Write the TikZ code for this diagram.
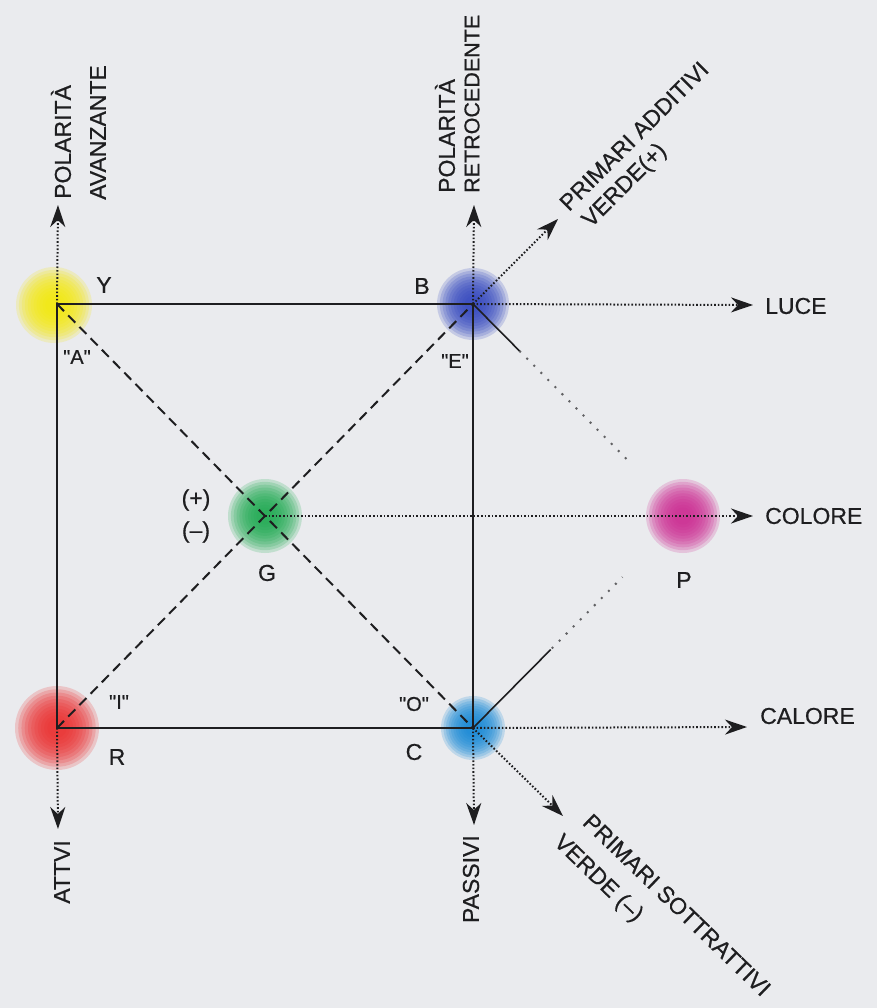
\documentclass[tikz,border=0pt]{standalone}
\usepackage{fontspec}
\setmainfont{Liberation Sans}
\newfontfamily\labfont{Liberation Sans}[FakeBold=0.6,Ligatures=TeX]
\usetikzlibrary{arrows.meta,calc}
\definecolor{paper}{RGB}{234,235,238}
\definecolor{ink}{RGB}{30,30,32}
\definecolor{yelC}{RGB}{245,232,10}
\definecolor{bluC}{RGB}{50,70,190}
\definecolor{grnC}{RGB}{30,170,80}
\definecolor{magC}{RGB}{205,40,145}
\definecolor{redC}{RGB}{235,45,45}
\definecolor{cyaC}{RGB}{20,135,215}
\newcommand{\paintblob}[3]{%
  \foreach \k in {0,...,10}{\fill[#2, opacity=0.2] #1 circle ({#3*(1-\k/13)});}}
\tikzset{
  frame/.style={ink, line width=2pt},
  dashline/.style={ink, line width=2pt, dash pattern=on 10pt off 6pt},
  dotarrow/.style={ink, line width=2pt, dash pattern=on 1.6pt off 2pt,
    -{Stealth[length=22pt,width=15pt,inset=7pt]}},
  faintsolid/.style={ink, line width=1.6pt},
  faintdots/.style={ink!70, line width=2pt, dash pattern=on 2pt off 8pt},
  lab/.style={text=ink, inner sep=0pt, font=\labfont\fontsize{23}{23}\selectfont},
  slab/.style={text=ink, inner sep=0pt, font=\labfont\fontsize{20}{20}\selectfont},
}
\begin{document}
\begin{tikzpicture}[x=1pt,y=-1pt]
\fill[paper] (0,0) rectangle (877,1008);
\useasboundingbox (0,0) rectangle (877,1008);

% points
\coordinate (Y) at (57,304);
\coordinate (B) at (473,304);
\coordinate (R) at (57,728);
\coordinate (C) at (473,728);
\coordinate (G) at (265,516);
\coordinate (P) at (683,516);

% colour blobs
\paintblob{(54,305)}{yelC}{38}
\paintblob{(B)}{bluC}{36}
\paintblob{(G)}{grnC}{37}
\paintblob{(P)}{magC}{37}
\paintblob{(R)}{redC}{42}
\paintblob{(C)}{cyaC}{32}

% arrow end points
\coordinate (Yup) at (58,205);
\coordinate (Bup) at (474,205);
\coordinate (Bdiag) at (558,219);
\coordinate (Bright) at (753,305);
\coordinate (Gright) at (753,516);
\coordinate (Cright) at (747,727);
\coordinate (Rdown) at (58,829);
\coordinate (Cdown) at (474,825);
\coordinate (Cdiag) at (563,816);

% square
\draw[frame] (Y) -- (B) -- (C) -- (R) -- cycle;
% diagonals
\draw[dashline] (Y) -- (C);
\draw[dashline] (R) -- (B);
% lines toward P
\draw[faintsolid, shorten >=232pt] (B) -- (P);
\draw[faintdots, shorten <=66pt, shorten >=80pt] (B) -- (P);
\draw[faintsolid, shorten >=188pt] (C) -- (P);
\draw[faintdots, shorten <=112pt, shorten >=86pt] (C) -- (P);

% dotted arrows
\draw[dotarrow] (Y) -- (Yup);
\draw[dotarrow] (B) -- (Bup);
\draw[dotarrow] (B) -- (Bdiag);
\draw[dotarrow] (B) -- (Bright);
\draw[dotarrow] (G) -- (Gright);
\draw[dotarrow] (C) -- (Cright);
\draw[dotarrow] (R) -- (Rdown);
\draw[dotarrow] (C) -- (Cdown);
\draw[dotarrow] (C) -- (Cdiag);

% axis texts
\node[lab, rotate=90, anchor=west] (polY) at (61,199) {POLARITÀ};
\node[lab, rotate=90, anchor=west] (avz) at (98,200) {AVANZANTE};
\node[lab, rotate=90, anchor=west] (polB) at (445,193) {POLARITÀ};
\node[lab, rotate=90, anchor=west, font=\labfont\fontsize{21.5}{21.5}\selectfont] (retro) at (472,193) {RETROCEDENTE};
\node[lab, rotate=45] (padd) at (634,136) {PRIMARI ADDITIVI};
\node[lab, rotate=45] (vplus) at (625,186) {VERDE(+)};
\node[lab, anchor=west] (luce) at (765,306) {LUCE};
\node[lab, anchor=west] (colore) at (765,516) {COLORE};
\node[lab, anchor=west] (calore) at (760,716) {CALORE};
\node[lab, rotate=90, anchor=east] (attivi) at (62,840) {ATTVI};
\node[lab, rotate=90, anchor=east] (passivi) at (471,835) {PASSIVI};
\node[lab, rotate=-44] (psott) at (677,905) {PRIMARI SOTTRATTIVI};
\node[lab, rotate=-44] (vminus) at (598,879) {VERDE (\textendash)};

% point labels
\node[lab] (lY) at (104,285) {Y};
\node[lab] (lB) at (422,286) {B};
\node[lab] (lR) at (117,757) {R};
\node[lab] (lC) at (414,752) {C};
\node[lab] (lG) at (267,573) {G};
\node[lab] (lP) at (684,580) {P};
\node[slab] (qA) at (77,357) {\textquotedbl A\textquotedbl};
\node[slab] (qE) at (455,361) {\textquotedbl E\textquotedbl};
\node[slab] (qI) at (119,702) {\textquotedbl I\textquotedbl};
\node[slab] (qO) at (414,704) {\textquotedbl O\textquotedbl};
\node[lab] (plus) at (196,500) {(+)};
\node[lab] (minus) at (196,532) {(\textendash)};
\end{tikzpicture}
\end{document}
